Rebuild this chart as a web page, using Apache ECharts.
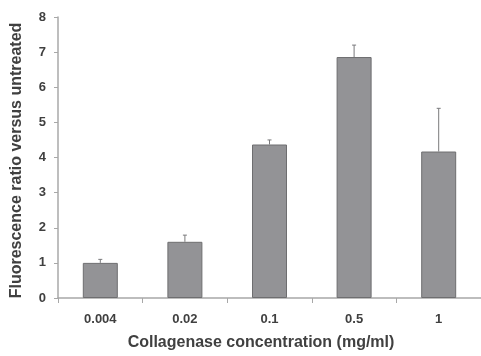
<!DOCTYPE html>
<html>
<head>
<meta charset="utf-8">
<script src="https://cdn.jsdelivr.net/npm/echarts@6/dist/echarts.min.js"></script>
<style>
  html, body { margin: 0; padding: 0; background: #fff; }
  #chart { width: 481px; height: 356px; }
</style>
</head>
<body>
<div id="chart"></div>
<script>
// data
const categories = ['0.004', '0.02', '0.1', '0.5', '1']
const ratios = [1.0, 1.6, 4.37, 6.86, 4.17]
const errorTops = [1.1, 1.79, 4.5, 7.2, 5.4]

const chart = echarts.init(document.getElementById('chart'))

const labelFont = { fontFamily: 'Liberation Sans, Arial, sans-serif', fontWeight: 'bold', color: '#404040' }

chart.setOption({
  animation: false,
  grid: { left: 58, top: 17, width: 425, height: 284 },
  xAxis: {
    type: 'category',
    data: categories,
    name: 'Collagenase concentration (mg/ml)',
    nameLocation: 'middle',
    nameGap: 37,
    nameTextStyle: Object.assign({ fontSize: 16, padding: [0, 17, 0, 0] }, labelFont),
    axisLine: { lineStyle: { color: '#a8a8a8', width: 1.5 } },
    axisTick: { show: true, length: 5, lineStyle: { color: '#a8a8a8' } },
    axisLabel: Object.assign({ fontSize: 13, margin: 15 }, labelFont)
  },
  yAxis: {
    type: 'value',
    min: 0,
    max: 8,
    interval: 1,
    name: 'Fluorescence ratio versus untreated',
    nameLocation: 'middle',
    nameGap: 33,
    nameTextStyle: Object.assign({ fontSize: 16, padding: [0, 6, 0, 0] }, labelFont),
    splitLine: { show: false },
    axisLine: { show: true, lineStyle: { color: '#a8a8a8', width: 1.5 } },
    axisTick: { show: true, length: 4, lineStyle: { color: '#a8a8a8' } },
    axisLabel: Object.assign({ fontSize: 13, margin: 12 }, labelFont)
  },
  series: [
    {
      type: 'bar',
      data: ratios,
      barWidth: 35,
      itemStyle: { color: '#939396', borderColor: '#6e6e70', borderWidth: 1 }
    },
    {
      type: 'custom',
      data: ratios.map((v, i) => [i, v, errorTops[i]]),
      z: 1,
      renderItem: function (params, api) {
        const base = api.coord([api.value(0), api.value(1)])
        const top = api.coord([api.value(0), api.value(2)])
        const x = base[0]
        return {
          type: 'group',
          children: [
            { type: 'line', shape: { x1: x, y1: base[1], x2: x, y2: top[1] }, style: { stroke: '#7a7a7c', lineWidth: 1 } },
            { type: 'line', shape: { x1: x - 2, y1: top[1], x2: x + 2, y2: top[1] }, style: { stroke: '#7a7a7c', lineWidth: 1 } }
          ]
        }
      }
    }
  ]
})
</script>
</body>
</html>
